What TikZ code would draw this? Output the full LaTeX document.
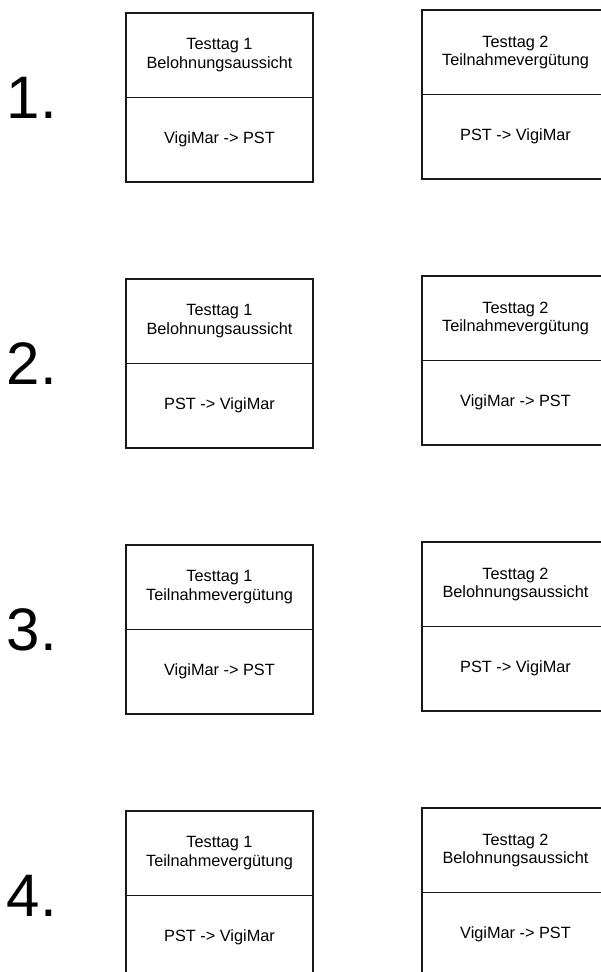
\documentclass[tikz,border=0pt]{standalone}
\usepackage{fontspec}
\setmainfont{Liberation Sans}
\usetikzlibrary{positioning}

\tikzset{
  cell/.style={draw=black!90, line width=1.5pt, outer sep=0pt, inner sep=0pt,
    minimum width=187pt, minimum height=84.5pt, align=center,
    font=\fontsize{16.3}{18.5}\selectfont},
  num/.style={inner sep=0pt, font=\fontsize{60}{60}\selectfont}
}

\begin{document}
\begin{tikzpicture}[x=1pt, y=1pt]
    \useasboundingbox (0,0) rectangle (601,-972);

    % Row 1
    \node (L1) [cell, anchor=north west] at (126,-13) {Testtag 1\\Belohnungsaussicht};
    \node (L1b) [cell, below=0pt of L1] {VigiMar -> PST};
    \node (R1) [cell, right=109pt of L1, yshift=3pt] {Testtag 2\\Teilnahmevergütung};
    \node (R1b) [cell, below=0pt of R1] {PST -> VigiMar};
    \node (N1) [num, left=69pt of L1.south west] {1.};

    % Row 2
    \node (L2) [cell, anchor=north west] at (126,-279) {Testtag 1\\Belohnungsaussicht};
    \node (L2b) [cell, below=0pt of L2] {PST -> VigiMar};
    \node (R2) [cell, right=109pt of L2, yshift=3pt] {Testtag 2\\Teilnahmevergütung};
    \node (R2b) [cell, below=0pt of R2] {VigiMar -> PST};
    \node (N2) [num, left=69pt of L2.south west] {2.};

    % Row 3
    \node (L3) [cell, anchor=north west] at (126,-545) {Testtag 1\\Teilnahmevergütung};
    \node (L3b) [cell, below=0pt of L3] {VigiMar -> PST};
    \node (R3) [cell, right=109pt of L3, yshift=3pt] {Testtag 2\\Belohnungsaussicht};
    \node (R3b) [cell, below=0pt of R3] {PST -> VigiMar};
    \node (N3) [num, left=69pt of L3.south west] {3.};

    % Row 4
    \node (L4) [cell, anchor=north west] at (126,-811) {Testtag 1\\Teilnahmevergütung};
    \node (L4b) [cell, below=0pt of L4] {PST -> VigiMar};
    \node (R4) [cell, right=109pt of L4, yshift=3pt] {Testtag 2\\Belohnungsaussicht};
    \node (R4b) [cell, below=0pt of R4] {VigiMar -> PST};
    \node (N4) [num, left=69pt of L4.south west] {4.};
\end{tikzpicture}
\end{document}
